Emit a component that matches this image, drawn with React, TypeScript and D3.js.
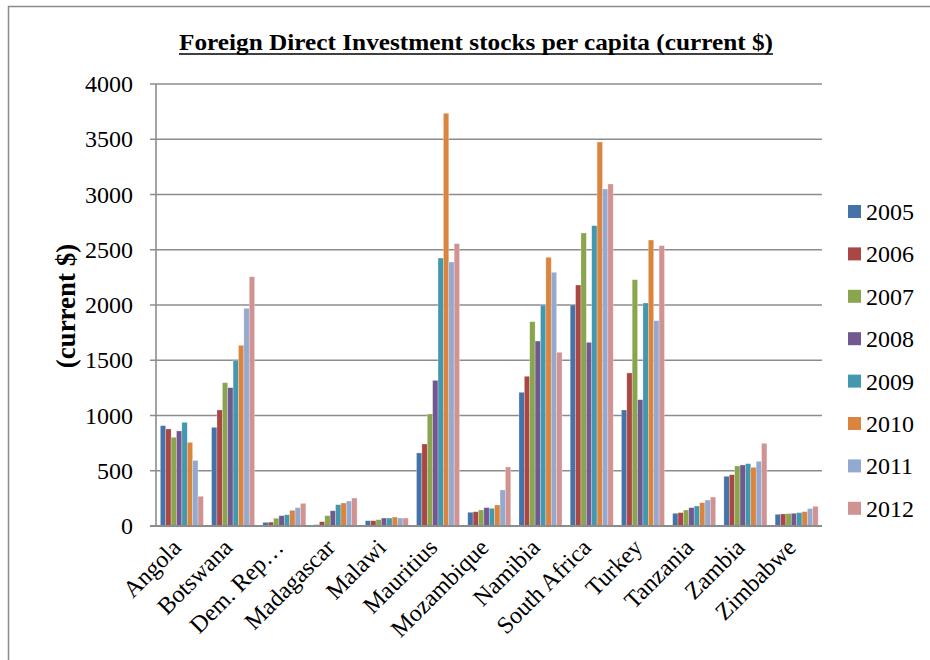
import React from "react";
import * as d3 from "d3";

const countries = ["Angola", "Botswana", "Dem. Rep…", "Madagascar", "Malawi", "Mauritius", "Mozambique", "Namibia", "South Africa", "Turkey", "Tanzania", "Zambia", "Zimbabwe"];
const years = ["2005", "2006", "2007", "2008", "2009", "2010", "2011", "2012"];

const v2005 = [908, 893, 33, 12, 48, 661, 124, 1210, 2000, 1050, 115, 450, 106];
const v2006 = [878, 1050, 35, 39, 48, 742, 129, 1355, 2181, 1385, 121, 464, 109];
const v2007 = [803, 1297, 70, 93, 57, 1014, 145, 1849, 2652, 2229, 145, 543, 112];
const v2008 = [860, 1252, 93, 138, 72, 1318, 166, 1674, 1662, 1143, 166, 552, 115];
const v2009 = [938, 1500, 102, 193, 72, 2425, 160, 2000, 2718, 2018, 181, 564, 121];
const v2010 = [757, 1635, 142, 208, 81, 3735, 190, 2432, 3475, 2588, 211, 531, 130];
const v2011 = [594, 1970, 166, 226, 72, 2389, 326, 2296, 3050, 1858, 235, 585, 157];
const v2012 = [269, 2256, 205, 253, 72, 2555, 534, 1572, 3095, 2537, 262, 748, 178];
const seriesValues = [v2005, v2006, v2007, v2008, v2009, v2010, v2011, v2012];
const yTicks = [0, 500, 1000, 1500, 2000, 2500, 3000, 3500, 4000];

const colors = ["#4572A7", "#AA4643", "#89A54E", "#71588F", "#4198AF", "#DB843D", "#93A9CF", "#D19392"];

const font = "'Liberation Serif', 'Times New Roman', serif";

export default function App() {
  const left = 156, right = 822, top = 84, bottom = 526;
  const x0 = d3.scaleBand<string>().domain(countries).range([left, right]).padding(0);
  const bw = x0.bandwidth();
  const x1 = d3.scaleBand<string>().domain(years).range([bw * 0.085, bw * 0.925]).padding(0);
  const y = d3.scaleLinear().domain([0, 4000]).range([bottom, top]);

  return (
    <div style={{ position: "absolute", left: 0, top: 0 }}>
      <svg width={930} height={660} style={{ display: "block", background: "#fff" }}>
        <path d="M8.5,660 L8.5,6.5 L930,6.5" fill="none" stroke="#8a8a8a" strokeWidth={1.5} />
        <text x={476} y={50} textAnchor="middle" fontFamily={font} fontWeight="bold" fontSize={23} textLength={594} lengthAdjust="spacingAndGlyphs">
          Foreign Direct Investment stocks per capita (current $)
        </text>
        <line x1={179} x2={773} y1={54} y2={54} stroke="#000" strokeWidth={1.6} />
        {yTicks.map((t) => (
          <g key={t}>
            <line x1={left - 6} x2={right} y1={y(t)} y2={y(t)} stroke="#8c8c8c" strokeWidth={t === 0 ? 2 : 1.6} />
            <text x={133} y={y(t) + 8} textAnchor="end" fontFamily={font} fontSize={24}>{t}</text>
          </g>
        ))}
        <line x1={left} x2={left} y1={top} y2={bottom} stroke="#8c8c8c" strokeWidth={1.6} />
        {countries.map((c, i) => (
          <g key={c} transform={`translate(${x0(c)},0)`}>
            {years.map((yr, j) => (
              <rect key={yr} x={x1(yr)} y={y(seriesValues[j][i])} width={x1.bandwidth()} height={bottom - y(seriesValues[j][i])} fill={colors[j]} stroke="rgba(255,255,255,0.45)" strokeWidth={0.6} />
            ))}
          </g>
        ))}
        <line x1={left} x2={right} y1={bottom} y2={bottom} stroke="#8c8c8c" strokeWidth={2} />
        {countries.map((c) => {
          const cx = (x0(c) as number) + bw / 2 + 1;
          return (
            <text key={c} transform={`translate(${cx},549) rotate(-45)`} textAnchor="end" fontFamily={font} fontSize={24}>{c}</text>
          );
        })}
        <text transform="translate(75,306) rotate(-90)" textAnchor="middle" fontFamily={font} fontWeight="bold" fontSize={27}>(current $)</text>
        {years.map((yr, j) => (
          <g key={yr} transform={`translate(848,${205 + j * 42.4})`}>
            <rect x={0} y={0} width={13} height={13} fill={colors[j]} />
            <text x={18} y={15} fontFamily={font} fontSize={24}>{yr}</text>
          </g>
        ))}
      </svg>
    </div>
  );
}
